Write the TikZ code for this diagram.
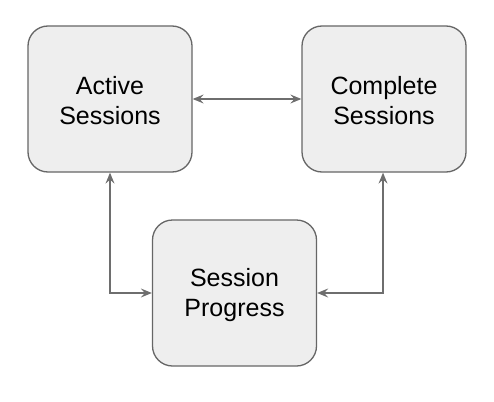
\documentclass[tikz,border=0pt]{standalone}
\usepackage{fontspec}
\setmainfont{Liberation Sans}
\usetikzlibrary{arrows.meta}
\definecolor{boxfill}{HTML}{EEEEEE}
\definecolor{boxline}{HTML}{666666}
\definecolor{arrowline}{HTML}{6E6E6E}
\begin{document}
\begin{tikzpicture}[x=1pt,y=-1pt,
  sbox/.style={draw=boxline, fill=boxfill, line width=1.3pt, rounded corners=20pt,
    minimum width=164pt, minimum height=146pt, inner sep=0pt,
    align=center, font=\fontsize{25}{30}\selectfont, text=black},
  conn/.style={draw=arrowline, line width=1.3pt, {Stealth[length=11pt,width=9pt,inset=4pt]}-{Stealth[length=11pt,width=9pt,inset=4pt]}}]
\useasboundingbox (0,0) rectangle (494,401);
\node[sbox] (active) at (110,99) {};
\node[sbox] (complete) at (384,99) {};
\node[sbox] (progress) at (234.5,293) {};
\node[align=center, font=\fontsize{25}{30}\selectfont, inner sep=0pt] (activet) at ([yshift=-2pt]active.center) {Active\\Sessions};
\node[align=center, font=\fontsize{25}{30}\selectfont, inner sep=0pt] (completet) at ([yshift=-2pt]complete.center) {Complete\\Sessions};
\node[align=center, font=\fontsize{25}{30}\selectfont, inner sep=0pt] (progresst) at ([yshift=-2pt]progress.center) {Session\\Progress};
\draw[conn] (active.east) -- (complete.west);
\draw[conn] (active.south) |- (progress.west);
\draw[conn] ([xshift=-1pt]complete.south) |- (progress.east);
\end{tikzpicture}
\end{document}
